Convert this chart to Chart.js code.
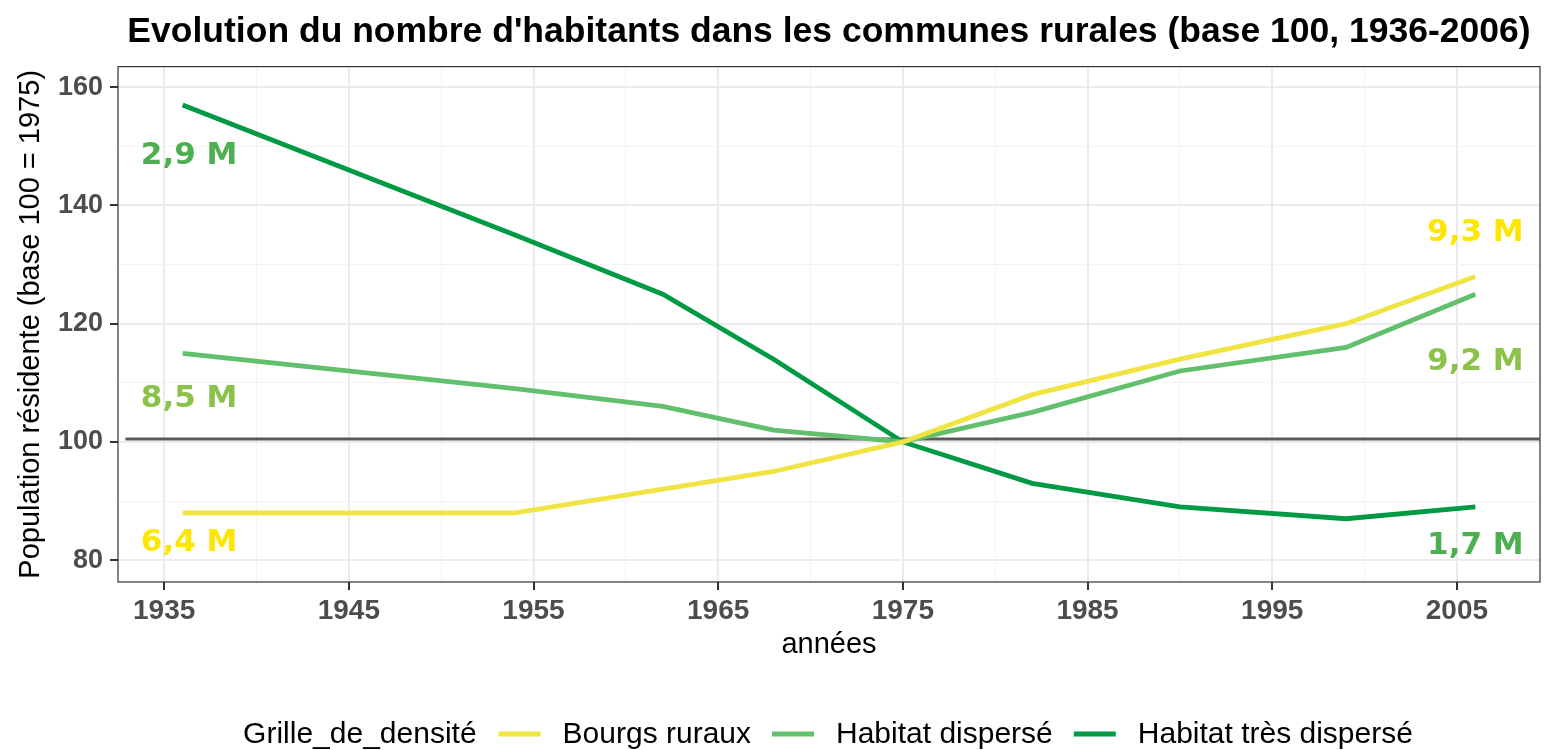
<!DOCTYPE html>
<html>
<head>
<meta charset="utf-8">
<script src="https://cdn.jsdelivr.net/npm/chart.js@4.4.0/dist/chart.umd.min.js"></script>
<style>
  body { margin: 0; background: #fff; }
  #wrap { width: 1547px; height: 750px; }
</style>
</head>
<body>
<div id="wrap"><canvas id="evolChart"></canvas></div>
<script>
// recensements
const years = [1936, 1954, 1962, 1968, 1975, 1982, 1990, 1999, 2006];
const bourgsRuraux = [88, 88, 92, 95, 100, 108, 114, 120, 128];
const habitatDisperse = [115, 109, 106, 102, 100, 105, 112, 116, 125];
const habitatTresDisperse = [157, 135, 125, 114, 100, 93, 89, 87, 89];
const seriesNames = ["Bourgs ruraux", "Habitat dispersé", "Habitat très dispersé"];

const xTicks = [1935, 1940, 1945, 1950, 1955, 1960, 1965, 1970, 1975, 1980, 1985, 1990, 1995, 2000, 2005];
const yTicks = [80, 90, 100, 110, 120, 130, 140, 150, 160];

// labels de population (debut / fin)
const popLabels = ["2,9 M", "8,5 M", "6,4 M", "9,3 M", "9,2 M", "1,7 M"];
const popLabelX = [1936.35, 1936.35, 1936.35, 2006, 2006, 2006];
const popLabelY = [148.4, 107.2, 82.95, 135.4, 113.6, 82.4];
const popLabelColors = ["#4caf50", "#8bc34a", "#ffe600", "#ffe600", "#8bc34a", "#4caf50"];

const refLine = 100.5;

const lineColors = ["#f0e442", "#62bf6b", "#009a44"];

const toPoints = (vals) => years.map((y, i) => ({ x: y, y: vals[i] }));

const majorX = (v) => v % 10 === 5;
const majorY = (v) => v % 20 === 0;

// cadre du panneau + textes + legende
const decorPlugin = {
    id: "decor",
    beforeDatasetsDraw(chart) {
        const ctx = chart.ctx;
        const a = chart.chartArea;
        ctx.save();
        ctx.strokeStyle = "#333333";
        ctx.lineWidth = 1.2;
        ctx.strokeRect(a.left, a.top, a.right - a.left, a.bottom - a.top);
        ctx.restore();
    },
    afterDatasetsDraw(chart) {
        const ctx = chart.ctx;
        const xs = chart.scales.x;
        const ys = chart.scales.y;
        const a = chart.chartArea;
        ctx.save();
        ctx.font = "bold 31px 'DejaVu Sans'";
        ctx.textAlign = "center";
        ctx.textBaseline = "middle";
        popLabels.forEach((t, i) => {
            ctx.fillStyle = popLabelColors[i];
            ctx.fillText(t, xs.getPixelForValue(popLabelX[i]), ys.getPixelForValue(popLabelY[i]));
        });
        ctx.restore();

        // legende en bas, centree sur le panneau
        ctx.save();
        ctx.font = "30px 'Liberation Sans', Arial";
        ctx.textBaseline = "middle";
        ctx.fillStyle = "#000";
        const keyW = 42, gapKey = 22, gapItem = 21;
        const legTitle = "Grille_de_densité";
        let total = ctx.measureText(legTitle).width;
        seriesNames.forEach((n) => { total += gapKey + keyW + gapKey + ctx.measureText(n).width; });
        const ly = 735;
        let lx = (a.left + a.right) / 2 - total / 2;
        ctx.fillText(legTitle, lx, ly);
        lx += ctx.measureText(legTitle).width + gapKey;
        seriesNames.forEach((name, i) => {
            ctx.strokeStyle = lineColors[i];
            ctx.lineWidth = 5;
            ctx.beginPath();
            ctx.moveTo(lx, ly - 1);
            ctx.lineTo(lx + keyW, ly - 1);
            ctx.stroke();
            lx += keyW + gapKey;
            ctx.fillText(name, lx, ly);
            lx += ctx.measureText(name).width + gapItem;
        });
        ctx.restore();
    }
};

const ctx = document.getElementById("evolChart");

new Chart(ctx, {
    type: "line",
    data: {
        datasets: [
            {
                label: "ref",
                data: [{ x: 1932.9, y: refLine }, { x: 2009.5, y: refLine }],
                borderColor: "#5a5a5a",
                borderWidth: 3,
                pointRadius: 0,
                order: 5
            },
            ...seriesNames.map((name, i) => ({
                label: name,
                data: toPoints([bourgsRuraux, habitatDisperse, habitatTresDisperse][i]),
                borderColor: lineColors[i],
                borderWidth: 4.8,
                pointRadius: 0,
                tension: 0,
                order: 1
            }))
        ]
    },
    options: {
        responsive: true,
        maintainAspectRatio: false,
        animation: false,
        layout: { padding: { left: 0, right: 7, top: 0, bottom: 88 } },
        plugins: {
            legend: { display: false },
            tooltip: { enabled: false },
            title: {
                display: true,
                fullSize: false,
                text: "Evolution du nombre d'habitants dans les communes rurales (base 100, 1936-2006)",
                color: "#000",
                font: { family: "'Liberation Sans', Arial", size: 35.5, weight: "bold" },
                padding: { top: 11, bottom: 13 }
            }
        },
        scales: {
            x: {
                type: "linear",
                min: 1932.5,
                max: 2009.5,
                afterBuildTicks(scale) { scale.ticks = xTicks.map((v) => ({ value: v })); },
                afterFit(scale) { scale.height = 80; },
                border: { display: false },
                grid: {
                    color: (c) => majorX(c.tick.value) ? "#ebebeb" : "#f3f3f3",
                    lineWidth: (c) => majorX(c.tick.value) ? 2 : 1,
                    tickColor: (c) => majorX(c.tick.value) ? "#333333" : "rgba(0,0,0,0)",
                    tickLength: 8,
                    tickWidth: 2
                },
                ticks: {
                    autoSkip: false,
                    maxRotation: 0,
                    padding: 4,
                    color: "#4d4d4d",
                    font: { family: "'Liberation Sans', Arial", size: 28, weight: "bold" },
                    callback: (v) => majorX(v) ? String(v) : ""
                },
                title: {
                    display: true,
                    text: "années",
                    color: "#000",
                    font: { family: "'Liberation Sans', Arial", size: 29 },
                    padding: { top: 2, bottom: 0 }
                }
            },
            y: {
                type: "linear",
                min: 76.3,
                max: 163.5,
                afterBuildTicks(scale) { scale.ticks = yTicks.map((v) => ({ value: v })); },
                afterFit(scale) { scale.width = 118; },
                border: { display: false },
                grid: {
                    color: (c) => majorY(c.tick.value) ? "#ebebeb" : "#f3f3f3",
                    lineWidth: (c) => majorY(c.tick.value) ? 2 : 1,
                    tickColor: (c) => majorY(c.tick.value) ? "#333333" : "rgba(0,0,0,0)",
                    tickLength: 8,
                    tickWidth: 2
                },
                ticks: {
                    autoSkip: false,
                    padding: 7,
                    color: "#4d4d4d",
                    font: { family: "'Liberation Sans', Arial", size: 27, weight: "bold" },
                    callback: (v) => majorY(v) ? String(v) : ""
                },
                title: {
                    display: true,
                    text: "Population résidente (base 100 = 1975)",
                    color: "#000",
                    font: { family: "'Liberation Sans', Arial", size: 29 },
                    padding: { top: 14, bottom: 4 }
                }
            }
        }
    },
    plugins: [decorPlugin]
});
</script>
</body>
</html>
